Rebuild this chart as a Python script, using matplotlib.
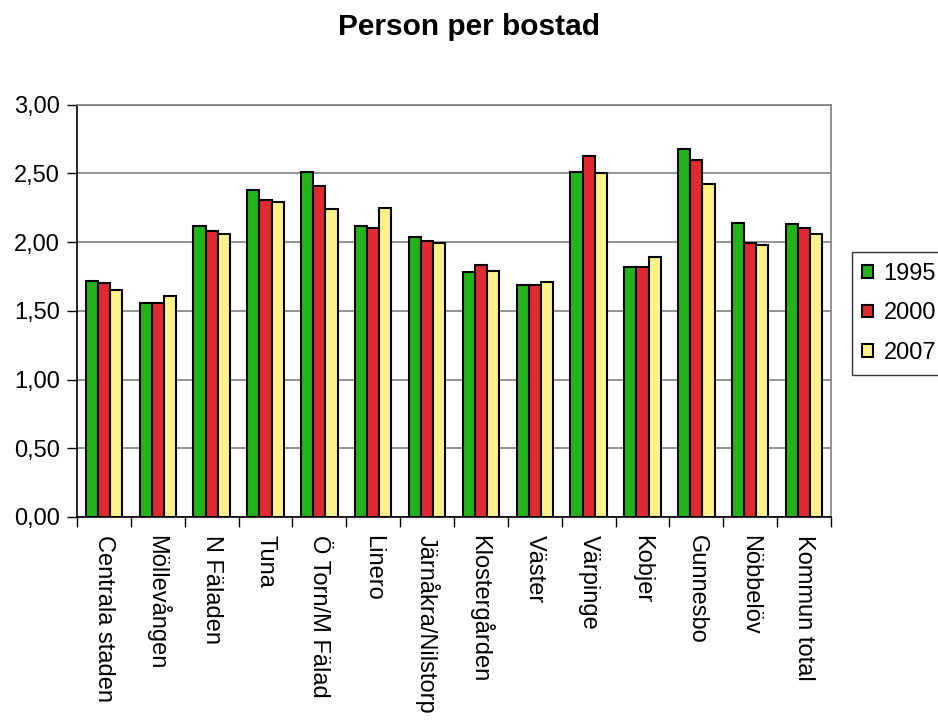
import matplotlib.pyplot as plt
import numpy as np
from matplotlib.ticker import FuncFormatter, MultipleLocator

plt.rcParams['font.family'] = ['Liberation Sans', 'DejaVu Sans']

# data
omraden = ["Centrala staden", "Möllevången", "N Fäladen", "Tuna", "Ö Torn/M Fälad",
           "Linero", "Järnåkra/Nilstorp", "Klostergården", "Väster", "Värpinge",
           "Kobjer", "Gunnesbo", "Nöbbelöv", "Kommun total"]
ar = ["1995", "2000", "2007"]
v1995 = [1.72, 1.56, 2.12, 2.38, 2.51, 2.12, 2.04, 1.78, 1.69, 2.51, 1.82, 2.68, 2.14, 2.13]
v2000 = [1.70, 1.56, 2.08, 2.31, 2.41, 2.10, 2.01, 1.83, 1.69, 2.63, 1.82, 2.60, 1.99, 2.10]
v2007 = [1.65, 1.61, 2.06, 2.29, 2.24, 2.25, 1.99, 1.79, 1.71, 2.50, 1.89, 2.42, 1.98, 2.06]
farger = ["#22b41a", "#e02a32", "#fff28a"]

fig = plt.figure(figsize=(9.38, 7.22), dpi=100)
ax = fig.add_axes([0.082, 0.284, 0.804, 0.571])

x = np.arange(len(omraden))
w = 0.225
for i, (serie, f) in enumerate(zip([v1995, v2000, v2007], farger)):
    ax.bar(x + (i - 1) * w, serie, w, color=f, edgecolor="black", linewidth=1.5,
           label=ar[i], zorder=3)

ax.set_xlim(-0.5, len(omraden) - 0.5)
ax.set_ylim(0, 3)
ax.yaxis.set_major_locator(MultipleLocator(0.5))
ax.yaxis.set_major_formatter(FuncFormatter(lambda v, p: f"{v:.2f}".replace(".", ",")))
ax.grid(axis="y", color="#808080", linewidth=1.2, zorder=0)

ax.set_xticks(x)
ax.set_xticklabels(omraden, rotation=270, va="top", ha="center")
ax.set_xticks(np.arange(-0.5, len(omraden)), minor=True)
ax.tick_params(axis="x", which="major", length=0, pad=13, labelsize=17)
ax.tick_params(axis="x", which="minor", length=7, width=1, direction="out")
ax.tick_params(axis="y", length=7, width=1, direction="out", labelsize=17, pad=5)

for s in ["top", "right"]:
    ax.spines[s].set_color("#808080")
    ax.spines[s].set_linewidth(1.2)
for s in ["left", "bottom"]:
    ax.spines[s].set_color("black")
    ax.spines[s].set_linewidth(1.2)

fig.suptitle("Person per bostad", x=0.5, y=0.982, fontsize=21.5, fontweight="bold")

leg = fig.legend(loc="upper left", bbox_to_anchor=(0.908, 0.651), fontsize=17,
                 handlelength=0.45, handleheight=0.45, handletextpad=0.45,
                 labelspacing=0.75, borderpad=0.45, borderaxespad=0,
                 frameon=True, fancybox=False, edgecolor="black")
leg.get_frame().set_linewidth(1)

fig.savefig("out.png", dpi=100)
